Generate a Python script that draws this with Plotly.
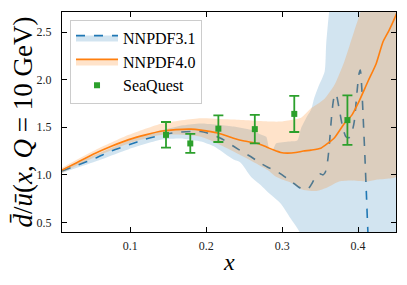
import plotly.graph_objects as go

# ---------------- data ----------------
# NNPDF3.1 central value
x31 = [0.01, 0.03, 0.054, 0.075, 0.098, 0.12, 0.142, 0.16, 0.18, 0.193, 0.205, 0.219,
       0.236, 0.248, 0.259, 0.27, 0.281, 0.29, 0.298, 0.305, 0.314, 0.322, 0.328, 0.334,
       0.34, 0.345, 0.35, 0.354, 0.357, 0.36, 0.362, 0.365, 0.368, 0.371, 0.375, 0.38,
       0.384, 0.388, 0.392, 0.395, 0.399, 0.401, 0.403, 0.405, 0.407, 0.409, 0.411,
       0.413, 0.416, 0.45]
y31 = [1.04, 1.10, 1.175, 1.25, 1.315, 1.375, 1.42, 1.445, 1.455, 1.455, 1.43, 1.385,
       1.30, 1.24, 1.19, 1.13, 1.08, 1.05, 1.01, 0.97, 0.92, 0.87, 0.85, 0.85,
       0.92, 0.99, 1.01, 1.00, 1.03, 1.15, 1.30, 1.60, 1.80, 1.85, 1.70, 1.49,
       1.40, 1.39, 1.45, 1.56, 1.90, 2.05, 2.10, 1.90, 1.56, 1.20, 0.80,
       0.40, 0.0, -0.5]
# NNPDF3.1 uncertainty band
x31_up = [0.01, 0.054, 0.098, 0.142, 0.17, 0.193, 0.236, 0.26, 0.27, 0.279, 0.283, 0.288,
          0.292, 0.31, 0.32, 0.325, 0.334, 0.338, 0.342, 0.347, 0.356, 0.358, 0.362, 0.37, 0.45]
y31_up = [1.06, 1.21, 1.36, 1.47, 1.52, 1.54, 1.507, 1.47, 1.43, 1.40, 1.28, 1.27,
          1.33, 1.35, 1.36, 1.49, 1.63, 1.68, 1.80, 1.91, 2.085, 2.37, 2.72, 3.2, 3.2]
x31_lo = [0.01, 0.054, 0.098, 0.142, 0.17, 0.193, 0.21, 0.236, 0.245, 0.259, 0.272, 0.281,
          0.298, 0.311, 0.323, 0.33, 0.45]
y31_lo = [1.02, 1.14, 1.27, 1.37, 1.38, 1.35, 1.30, 1.16, 1.13, 0.98, 0.89, 0.82,
          0.70, 0.545, 0.40, 0.2, -0.6]

# NNPDF4.0 central value
x40 = [0.01, 0.03, 0.054, 0.075, 0.098, 0.12, 0.142, 0.16, 0.18, 0.193, 0.215, 0.236,
       0.25, 0.268, 0.28, 0.289, 0.298, 0.307, 0.318, 0.328, 0.338, 0.351, 0.36, 0.369,
       0.382, 0.392, 0.40, 0.413, 0.424, 0.433, 0.441, 0.448, 0.452]
y40 = [1.05, 1.13, 1.227, 1.30, 1.37, 1.42, 1.46, 1.475, 1.48, 1.47, 1.44, 1.385,
       1.355, 1.33, 1.29, 1.26, 1.235, 1.228, 1.235, 1.25, 1.26, 1.28, 1.33, 1.39,
       1.54, 1.63, 1.75, 1.98, 2.17, 2.40, 2.52, 2.64, 2.72]
# NNPDF4.0 uncertainty band
x40_up = [0.01, 0.054, 0.098, 0.142, 0.193, 0.236, 0.281, 0.30, 0.315, 0.325, 0.338,
          0.342, 0.356, 0.369, 0.382, 0.395, 0.404, 0.41, 0.45]
y40_up = [1.075, 1.26, 1.42, 1.54, 1.595, 1.58, 1.56, 1.56, 1.58, 1.60, 1.70,
          1.72, 1.80, 1.945, 2.19, 2.51, 2.73, 2.9, 3.2]
x40_lo = [0.01, 0.054, 0.098, 0.142, 0.193, 0.236, 0.281, 0.29, 0.30, 0.311, 0.325,
          0.345, 0.36, 0.375, 0.39, 0.413, 0.425, 0.444, 0.452]
y40_lo = [1.02, 1.19, 1.33, 1.42, 1.40, 1.245, 1.05, 0.99, 0.95, 0.92, 0.85,
          0.83, 0.87, 0.93, 0.94, 0.93, 0.95, 0.965, 0.98]

# SeaQuest data
x_sq = [0.147, 0.179, 0.216, 0.264, 0.316, 0.386]
y_sq = [1.42, 1.33, 1.485, 1.48, 1.64, 1.575]
e_sq = [0.135, 0.10, 0.14, 0.15, 0.19, 0.26]

names = ["NNPDF3.1", "NNPDF4.0", "SeaQuest"]
x_ticks = [0.1, 0.2, 0.3, 0.4]
y_ticks = [0.5, 1.0, 1.5, 2.0, 2.5]

# ---------------- styles ----------------
BLUE = "#1f77b4"
ORANGE = "#ff7f0e"
GREEN = "#2ca02c"
BLUE_BAND = "rgba(31,119,180,0.2)"
ORANGE_BAND = "rgba(255,127,14,0.22)"
FONT = "Liberation Serif"

fig = go.Figure()


def add_band(xc, yc, xl, yl, xu, yu, color, band, dash, name):
    fig.add_trace(go.Scatter(x=xl, y=yl, mode="lines",
                             line=dict(width=0, shape="spline", smoothing=0.6),
                             showlegend=False, hoverinfo="skip"))
    fig.add_trace(go.Scatter(x=xc, y=yc, mode="lines", fill="tonexty", fillcolor=band,
                             line=dict(color=color, width=1.6, dash=dash,
                                       shape="spline", smoothing=0.6),
                             name=name))
    fig.add_trace(go.Scatter(x=xu, y=yu, mode="lines", fill="tonexty", fillcolor=band,
                             line=dict(width=0, shape="spline", smoothing=0.6),
                             showlegend=False, hoverinfo="skip"))


add_band(x31, y31, x31_lo, y31_lo, x31_up, y31_up, BLUE, BLUE_BAND, "dash", names[0])
add_band(x40, y40, x40_lo, y40_lo, x40_up, y40_up, ORANGE, ORANGE_BAND, "solid", names[1])

fig.add_trace(go.Scatter(
    x=x_sq, y=y_sq, mode="markers", name=names[2],
    marker=dict(symbol="square", size=6, color=GREEN),
    error_y=dict(type="data", array=e_sq, color=GREEN, thickness=1.8, width=5),
))

axis_common = dict(
    showline=True, linecolor="black", linewidth=1, mirror="ticks",
    ticks="inside", ticklen=5, tickwidth=1, tickcolor="black",
    showgrid=False, zeroline=False, automargin=False,
    tickfont=dict(family=FONT, size=12, color="#222"),
)

fig.update_xaxes(range=[0.01, 0.45], tickvals=x_ticks, tickformat=".1f",
                 ticklabelstandoff=3, **axis_common)
fig.update_yaxes(range=[0.4, 2.71], tickvals=y_ticks, tickformat=".1f",
                 ticklabelstandoff=7,
                 title=dict(text="<i>d\u0304</i>/<i>u\u0304</i>(<i>x</i>, <i>Q</i> = 10 GeV)",
                            font=dict(family=FONT, size=27, color="black"), standoff=3),
                 **axis_common)

# x-axis title placed as an annotation to sit closer to the tick labels
fig.add_annotation(text="<i>x</i>", xref="paper", yref="paper", x=0.5, y=-0.135,
                   xanchor="center", yanchor="middle", showarrow=False,
                   font=dict(family=FONT, size=24, color="black"))

# the page body adds an 8px offset, so the figure is 8px smaller and margins shifted
fig.update_layout(
    width=399, height=277,
    margin=dict(l=54, r=11, t=4, b=53),
    paper_bgcolor="white", plot_bgcolor="white",
    legend=dict(x=0.024, y=0.965, xanchor="left", yanchor="top",
                traceorder="normal", itemwidth=42,
                bgcolor="rgba(255,255,255,0.85)", bordercolor="#cccccc", borderwidth=1,
                font=dict(family=FONT, size=16, color="black"),
                tracegroupgap=2),
    showlegend=True,
)

fig.write_html("out.html")
